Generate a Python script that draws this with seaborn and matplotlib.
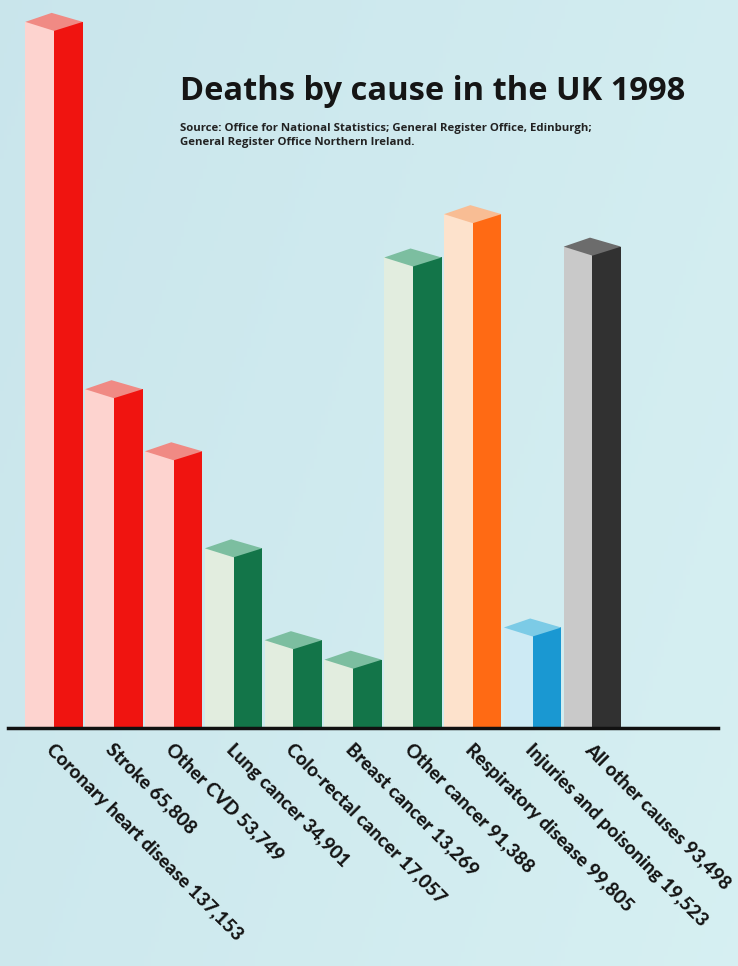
import numpy as np
import pandas as pd
import matplotlib
matplotlib.use("Agg")
import matplotlib.pyplot as plt
from matplotlib.patches import Polygon
import seaborn as sns

causes = [
    "Coronary heart disease", "Stroke", "Other CVD", "Lung cancer",
    "Colo-rectal cancer", "Breast cancer", "Other cancer",
    "Respiratory disease", "Injuries and poisoning", "All other causes",
]
deaths = [137153, 65808, 53749, 34901, 17057, 13269, 91388, 99805, 19523, 93498]
groups = ["cvd", "cvd", "cvd", "cancer", "cancer", "cancer", "cancer",
          "resp", "injury", "other"]

title = "Deaths by cause in the UK 1998"
source_lines = [
    "Source: Office for National Statistics; General Register Office, Edinburgh;",
    "General Register Office Northern Ireland.",
]

front_col = {"cvd": "#fdd3cf", "cancer": "#e2eddf", "resp": "#fde2cc",
             "injury": "#cdeaf4", "other": "#c9c9c9"}
side_col = {"cvd": "#f01410", "cancer": "#137549", "resp": "#ff6a14",
            "injury": "#1a98d2", "other": "#313131"}
top_col = {"cvd": "#f08a84", "cancer": "#7cbea0", "resp": "#f8bd94",
           "injury": "#7ccbe6", "other": "#6c6c6c"}

sns.set_theme(style="white")
plt.rcParams["font.family"] = ["Open Sans", "DejaVu Sans"]

W, H = 738, 966
fig = plt.figure(figsize=(W / 100, H / 100), dpi=100)

# soft blue backdrop
bg = fig.add_axes([0, 0, 1, 1], zorder=0)
gx = np.linspace(0, 1, 200)
gy = np.linspace(0, 1, 200)
GX, GY = np.meshgrid(gx, gy)
c0 = np.array([0.79, 0.90, 0.925])
c1 = np.array([0.84, 0.94, 0.95])
t = (0.7 * GX + 0.3 * GY)[..., None]
bg.imshow(c0 * (1 - t) + c1 * t, aspect="auto", extent=[0, 1, 0, 1])
bg.axis("off")

base_px = 728
ax = fig.add_axes([8 / W, (H - base_px) / H, 710 / W, base_px / H], zorder=1)
ax.patch.set_alpha(0)

df = pd.DataFrame({
    "cause": np.repeat(causes, 2),
    "deaths": np.repeat(deaths, 2),
    "face": ["front", "side"] * len(causes),
})
sns.barplot(data=df, x="cause", y="deaths", hue="face", order=causes,
            hue_order=["front", "side"], dodge=True, width=0.96, gap=0,
            errorbar=None, legend=False, saturation=1, linewidth=0, ax=ax)

ax.set_xlim(-0.77, 11.10)
ymax = 141400
ax.set_ylim(0, ymax)

for p in ax.patches:
    cx = p.get_x() + p.get_width() / 2
    i = int(round(cx))
    g = groups[i]
    p.set_facecolor(front_col[g] if cx < i else side_col[g])
    p.set_edgecolor("none")

# isometric top faces
d = ymax * 9 / base_px
half = 0.48
for i, (v, g) in enumerate(zip(deaths, groups)):
    poly = Polygon([(i - half, v), (i - 0.04, v + d), (i + half, v), (i, v - d)],
                   closed=True, facecolor=top_col[g], edgecolor="none", zorder=3)
    ax.add_patch(poly)

for s in ["top", "right", "left"]:
    ax.spines[s].set_visible(False)
ax.spines["bottom"].set_color("#111111")
ax.spines["bottom"].set_linewidth(2.5)
ax.spines["bottom"].set_zorder(5)
ax.set_xticks([])
ax.set_yticks([])
ax.set_xlabel("")
ax.set_ylabel("")

for i, (c, v) in enumerate(zip(causes, deaths)):
    ax.annotate(f"{c} {v:,}", xy=(i, 0), xycoords="data",
                xytext=(1, -9), textcoords="offset points",
                rotation=-45, rotation_mode="anchor", ha="left", va="top",
                fontsize=13.6, fontweight="black", color="#141414",
                family=["Lato", "DejaVu Sans"], annotation_clip=False)

fig.text(180 / W, 1 - 92 / H, title, fontsize=23.5, fontweight="bold",
         color="#151515", va="center", ha="left")
for k, line in enumerate(source_lines):
    fig.text(180 / W, 1 - (128 + 14 * k) / H, line, fontsize=8.2,
             fontweight="bold", color="#222222", va="center", ha="left")

fig.savefig("out.png", dpi=100)
